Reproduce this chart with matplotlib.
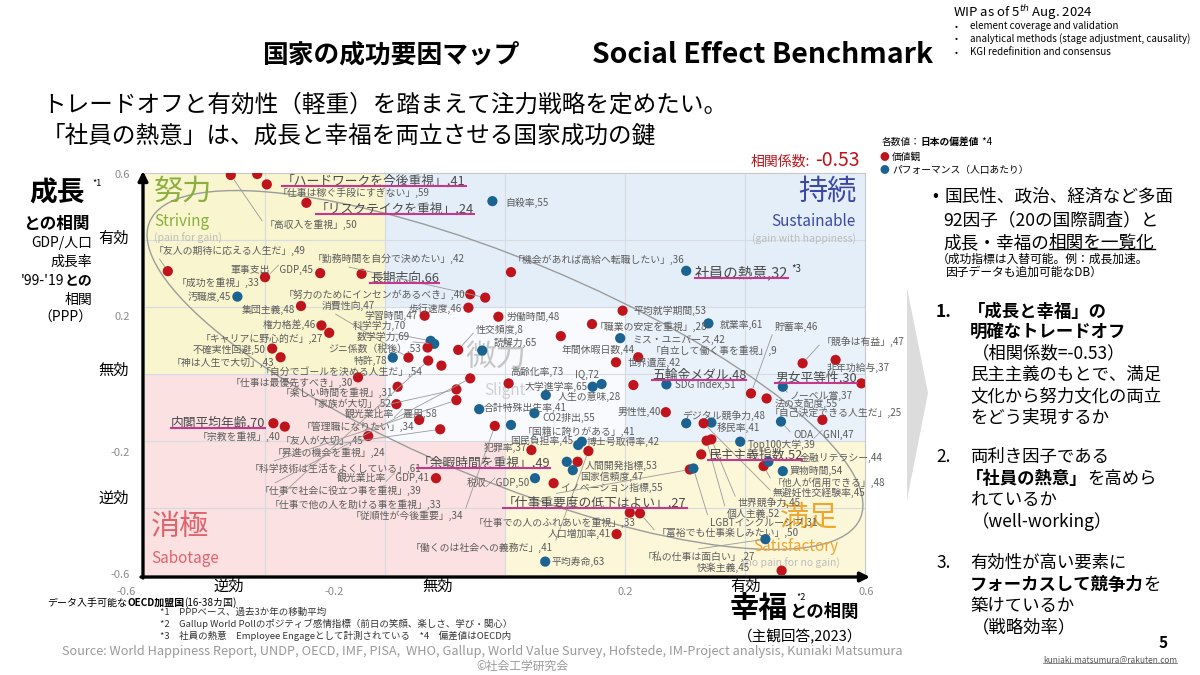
import matplotlib
matplotlib.use("Agg")
import matplotlib.pyplot as plt
from matplotlib.patches import Rectangle, Ellipse, Polygon
from matplotlib.lines import Line2D
from matplotlib.transforms import IdentityTransform

plt.rcParams['font.family'] = ['Noto Sans CJK JP', 'DejaVu Sans']

W, H = 1200, 675

# --- data: factor name, Japan deviation score, corr with happiness (x), corr with growth (y)
factor_names = [
    "「ハードワークを今後重視」", "「仕事は稼ぐ手段にすぎない」", "「リスクテイクを重視」", "「高収入を重視」",
    "「友人の期待に応える人生だ」", "軍事支出／GDP", "「成功を重視」", "長期志向", "汚職度", "集団主義",
    "権力格差", "「キャリアに野心的だ」", "不確実性回避", "「神は人生で大切」", "「勤務時間を自分で決めたい」",
    "「努力のためにインセンがあるべき」", "歩行速度", "学習時間", "消費性向", "科学学力", "数学学力",
    "ジニ係数（税後）", "特許", "「自分でゴールを決める人生だ」", "労働時間", "性交頻度", "読解力", "自殺率",
    "「機会があれば高給へ転職したい」", "社員の熱意", "平均就学期間", "「職業の安定を重視」", "就業率",
    "ミス・ユニバース", "年間休暇日数", "「自立して働く事を重視」", "世界遺産", "貯蓄率", "「競争は有益」",
    "非年功給与", "男女平等性", "ノーベル賞", "法の支配度", "「自己決定できる人生だ」", "ODA／GNI",
    "高齢化率", "IQ", "大学進学率", "人生の意味", "合計特殊出生率", "CO2排出", "「国籍に誇りがある」",
    "「従順性が今後重要」", "犯罪率", "国民負担率", "博士号取得率", "「働くのは社会への義務だ」",
    "「余暇時間を重視」", "人間開発指標", "国家信頼度", "税収／GDP", "イノベーション指標",
    "「仕事重要度の低下はよい」", "LGBTインクルーシブ", "五輪金メダル", "SDG Index", "男性性",
    "デジタル競争力", "移民率", "無避妊性交経験率", "個人主義", "世界競争力", "民主主義指数", "Top100大学",
    "「他人が信用できる」", "金融リテラシー", "買物時間", "人口増加率", "平均寿命", "快楽主義",
    "「私の仕事は面白い」", "「仕事での人のふれあいを重視」", "「富裕でも仕事楽しみたい」",
    "「仕事は最優先すべき」", "「楽しい時間を重視」", "「家族が大切」", "観光業比率／雇用",
    "「管理職になりたい」", "内閣平均年齢", "「宗教を重視」", "「友人が大切」", "「昇進の機会を重視」",
    "「科学技術は生活をよくしている」", "観光業比率／GDP", "「仕事で社会に役立つ事を重視」",
    "「仕事で他の人を助ける事を重視」",
]
japan_scores = [
    41, 59, 24, 50, 49, 45, 33, 66, 45, 48, 46, 27, 50, 43, 42, 40, 46, 47, 47, 70, 69, 53, 78, 54,
    48, 8, 65, 55, 36, 32, 53, 28, 61, 42, 44, 9, 42, 46, 47, 37, 30, 37, 55, 25, 47, 73, 72, 65,
    28, 41, 55, 41, 34, 37, 45, 42, 41, 49, 53, 47, 50, 55, 27, 31, 48, 51, 40, 48, 41, 45, 52, 45,
    52, 39, 48, 44, 54, 41, 63, 45, 27, 33, 50, 30, 31, 52, 58, 34, 70, 40, 45, 24, 61, 41, 39, 33,
]
happiness_corr = [
    -0.413, -0.397, -0.331, -0.457, -0.562, -0.308, -0.400, -0.239, -0.446, -0.340, -0.306, -0.293,
    -0.388, -0.374, -0.033, -0.058, -0.061, -0.134, -0.161, -0.124, -0.118, -0.129, -0.187, -0.106,
    -0.011, -0.078, -0.038, -0.021, 0.010, 0.302, 0.196, 0.145, 0.339, 0.192, 0.093, 0.222, 0.185,
    0.410, 0.496, 0.551, 0.594, 0.463, 0.436, 0.529, 0.460, 0.006, 0.161, 0.146, 0.068, -0.043,
    0.049, 0.010, -0.017, 0.044, 0.122, 0.128, 0.139, 0.103, 0.121, 0.113, 0.050, 0.081, 0.308,
    0.314, 0.214, 0.269, 0.268, 0.302, 0.344, 0.331, 0.336, 0.344, 0.327, 0.392, 0.431, 0.439,
    0.463, 0.186, 0.067, 0.461, 0.434, 0.208, 0.225, -0.245, -0.179, -0.181, -0.081, -0.143,
    -0.386, -0.367, -0.228, -0.108, -0.081, -0.115, -0.058, -0.128,
]
growth_corr = [
    0.597, 0.566, 0.511, 0.594, 0.307, 0.301, 0.289, 0.299, 0.231, 0.203, 0.145, 0.123, 0.076,
    0.050, 0.228, 0.238, 0.198, 0.174, 0.049, 0.099, 0.090, 0.079, 0.049, 0.025, 0.171, 0.072,
    0.070, 0.516, 0.304, 0.308, 0.189, 0.149, 0.151, 0.107, 0.113, 0.050, 0.035, -0.058, 0.032,
    0.042, -0.028, -0.038, -0.073, -0.137, -0.142, -0.028, -0.030, -0.038, -0.063, -0.105, -0.117,
    -0.152, -0.155, -0.227, -0.212, -0.202, -0.230, -0.262, -0.262, -0.287, -0.311, -0.326, -0.285,
    -0.282, -0.033, -0.031, -0.114, -0.147, -0.145, -0.147, -0.199, -0.195, -0.240, -0.202, -0.275,
    -0.262, -0.290, -0.478, -0.560, -0.587, -0.493, -0.414, -0.416, -0.010, -0.038, -0.090, -0.046,
    -0.137, -0.147, -0.157, -0.185, -0.165, -0.078, -0.311, -0.013, 0.040,
]
# v = 価値観 (values), p = パフォーマンス (performance per capita)
factor_type = list(
    "vvvvvvvvpvvvvvvvvvvpp"
    "vpvvvpp"
    "vpvvpp"
    "vvvvvvvpvvp"
    "vppppppvvppvp"
    "vppvvpvpvppvvvvpvppvpvpvvvvvvvvvvvvvvv"
)

# label placement on the slide (pixel position of label anchor, alignment, leader line, emphasis)
label_layout = [
    (282, 181, 'l', 0, 1), (278, 193, 'l', 0, 0), (316, 209, 'l', 0, 1), (265, 225, 'l', 1, 0),
    (154, 251, 'l', 1, 0), (313, 270, 'r', 0, 0), (259, 283, 'r', 0, 0), (370, 278, 'l', 0, 1),
    (231, 297, 'r', 0, 0), (295, 310, 'r', 0, 0), (316, 325, 'r', 0, 0), (323, 339, 'r', 0, 0),
    (266, 350, 'r', 0, 0), (274, 363, 'r', 0, 0), (313, 259, 'l', 1, 0), (465, 295, 'r', 0, 0),
    (462, 309, 'r', 0, 0), (418, 316, 'r', 0, 0), (322, 306, 'l', 1, 0), (353, 326, 'l', 1, 0),
    (357, 337, 'l', 1, 0), (421, 349, 'r', 0, 0), (387, 361, 'r', 0, 0), (422, 372, 'r', 0, 0),
    (507, 317, 'l', 0, 0), (476, 330, 'l', 1, 0), (494, 343, 'l', 0, 0), (505, 203, 'l', 0, 0),
    (513, 260, 'l', 0, 0), (695, 273, 'l', 0, 2), (634, 311, 'l', 0, 0), (595, 327, 'l', 0, 0),
    (720, 325, 'l', 0, 0), (632, 340, 'l', 0, 0), (562, 350, 'l', 0, 0), (651, 351, 'l', 0, 0),
    (627, 363, 'l', 0, 0), (775, 327, 'l', 1, 0), (822, 342, 'l', 1, 0), (827, 368, 'l', 0, 0),
    (857, 378, 'r', 0, 1), (790, 396, 'l', 1, 0), (775, 404, 'l', 0, 0), (770, 413, 'l', 0, 0),
    (793, 435, 'l', 1, 0), (510, 372, 'l', 0, 0), (575, 375, 'l', 0, 0), (588, 387, 'r', 0, 0),
    (558, 397, 'l', 0, 0), (484, 408, 'l', 0, 0), (542, 418, 'l', 0, 0), (523, 432, 'l', 0, 0),
    (463, 516, 'r', 1, 0), (527, 448, 'r', 0, 0), (573, 441, 'r', 0, 0), (587, 442, 'l', 0, 0),
    (553, 548, 'r', 1, 0), (550, 463, 'r', 0, 1), (585, 466, 'l', 0, 0), (580, 477, 'l', 0, 0),
    (530, 483, 'r', 0, 0), (560, 488, 'l', 0, 0), (503, 503, 'l', 1, 1), (710, 523, 'l', 1, 0),
    (652, 375, 'l', 0, 1), (675, 385, 'l', 0, 0), (661, 412, 'r', 0, 0), (682, 416, 'l', 0, 0),
    (717, 428, 'l', 0, 0), (773, 493, 'l', 1, 0), (727, 514, 'l', 1, 0), (738, 503, 'l', 1, 0),
    (708, 455, 'l', 0, 1), (748, 445, 'l', 0, 0), (773, 483, 'l', 1, 0), (800, 458, 'l', 0, 0),
    (790, 471, 'l', 0, 0), (611, 534, 'r', 0, 0), (551, 562, 'l', 0, 0), (750, 568, 'r', 0, 0),
    (643, 557, 'l', 1, 0), (635, 523, 'r', 0, 0), (657, 533, 'l', 1, 0), (353, 383, 'r', 0, 0),
    (393, 393, 'r', 0, 0), (391, 404, 'r', 0, 0), (345, 414, 'l', 1, 0), (414, 427, 'r', 0, 0),
    (265, 423, 'r', 0, 1), (280, 437, 'r', 0, 0), (363, 441, 'r', 0, 0), (273, 453, 'l', 1, 0),
    (250, 469, 'l', 1, 0), (430, 478, 'r', 0, 0), (260, 491, 'l', 1, 0), (270, 505, 'l', 1, 0),
]

RED = '#c0141c'
BLUE = '#1b6391'
PINK_LINE = '#c8378c'

fig = plt.figure(figsize=(12, 6.75), dpi=100)
renderer = fig.canvas.get_renderer()


def put(x, y, s, size, ha='left', weight='normal', color='black', **kw):
    return fig.text(x / W, 1 - y / H, s, fontsize=size, ha=ha, va='center',
                    fontweight=weight, color=color, **kw)


def rich(x, y, parts, size, color='black'):
    # parts: list of (text, bold)
    for s, bold in parts:
        t = put(x, y, s, size, weight='bold' if bold else 'normal', color=color)
        x = t.get_window_extent(renderer).x1


def underline(t, color, lw=1.3, pad=1.0):
    bb = t.get_window_extent(renderer)
    fig.add_artist(Line2D([bb.x0, bb.x1], [bb.y0 + pad, bb.y0 + pad], color=color, lw=lw,
                          transform=IdentityTransform()))


# ---------------- scatter map ----------------
ax = fig.add_axes([145 / W, 1 - 575 / H, 720 / W, 402 / H])
ax.set_xlim(-0.6, 0.6)
ax.set_ylim(-0.6, 0.6)
ax.set_xticks([])
ax.set_yticks([])
for side in ['top', 'right']:
    ax.spines[side].set_color('#c8c8c8')
    ax.spines[side].set_linewidth(0.8)
for side in ['left', 'bottom']:
    ax.spines[side].set_visible(False)

zones = [
    (-0.6, 0.0, 0.4, 0.6, '#f8f5cf'),   # 努力
    (-0.2, 0.2, 0.8, 0.4, '#e4eef9'),   # 持続
    (0.2, -0.2, 0.4, 0.4, '#e9f1fa'),
    (-0.2, -0.2, 0.4, 0.4, '#f8fafd'),  # 微力
    (-0.6, -0.6, 0.4, 0.6, '#fbe1e2'),  # 消極
    (-0.2, -0.6, 0.2, 0.4, '#fbe1e2'),
    (0.0, -0.6, 0.6, 0.4, '#fcf7d9'),   # 満足
]
for x0, y0, w, h, c in zones:
    ax.add_patch(Rectangle((x0, y0), w, h, facecolor=c, edgecolor='none', zorder=0))
for g in [-0.4, -0.2, 0.0, 0.2, 0.4]:
    ax.axvline(g, color='#d6dbe2', lw=0.8, zorder=1)
    ax.axhline(g, color='#d6dbe2', lw=0.8, zorder=1)

# distribution outline
ax.add_patch(Ellipse((505, H - 370), width=770, height=220, angle=-22.6, fill=False,
                     edgecolor='#9c9c9c', lw=1.0, transform=IdentityTransform(), zorder=2))

# quadrant names
ax.text(-0.585, 0.545, "努力", fontsize=21, color='#8aaf3c', va='center', zorder=2)
ax.text(-0.585, 0.455, "Striving", fontsize=11, color='#8aaf3c', va='center', zorder=2)
ax.text(-0.585, 0.405, "(pain for gain)", fontsize=7.5, color='#bdbdbd', va='center', zorder=2)
ax.text(0.585, 0.545, "持続", fontsize=21, color='#3b48a6', va='center', ha='right', zorder=2)
ax.text(0.585, 0.455, "Sustainable", fontsize=11, color='#3b48a6', va='center', ha='right', zorder=2)
ax.text(0.585, 0.405, "(gain with happiness)", fontsize=7.5, color='#bdbdbd', va='center', ha='right', zorder=2)
ax.text(-0.59, -0.458, "消極", fontsize=21, color='#e0636c', va='center', zorder=2)
ax.text(-0.59, -0.55, "Sabotage", fontsize=11, color='#e0636c', va='center', zorder=2)
ax.text(0.555, -0.43, "満足", fontsize=21, color='#f0a52c', va='center', ha='right', zorder=2)
ax.text(0.555, -0.515, "Satisfactory", fontsize=11, color='#f0a52c', va='center', ha='right', zorder=2)
ax.text(0.558, -0.567, "(no pain for no gain)", fontsize=7.5, color='#bdbdbd', va='center', ha='right', zorder=2)
ax.text(-0.015, 0.05, "微力", fontsize=22, color='#c6c6c6', va='center', ha='center', zorder=2)
ax.text(0.0, -0.048, "Slight", fontsize=11, color='#cfcfcf', va='center', ha='center', zorder=2)

# points
colors = [RED if k == 'v' else BLUE for k in factor_type]
ax.scatter(happiness_corr, growth_corr, s=54, c=colors, edgecolors='none', zorder=4)

emphasised = []
for name, score, hx, gy, (lx, ly, ha, leader, emph) in zip(
        factor_names, japan_scores, happiness_corr, growth_corr, label_layout):
    size = [7.1, 9.2, 10.5][emph]
    props = None
    if leader:
        props = dict(arrowstyle='-', color='#9a9a9a', lw=0.6, shrinkA=0, shrinkB=4,
                     relpos=(0.0, 0.5) if ha == 'l' else (1.0, 0.5))
    t = ax.annotate(f"{name},{score}", xy=(hx, gy), xytext=(lx, H - ly),
                    textcoords='figure pixels', ha='left' if ha == 'l' else 'right',
                    va='center', fontsize=size, color='#4a4a4a' if emph else '#5c5c5c',
                    arrowprops=props, zorder=5)
    if emph:
        emphasised.append((t, emph))

# axis arrows
ax.annotate('', xy=(143, H - 171), xytext=(143, H - 578), xycoords='figure pixels',
            textcoords='figure pixels',
            arrowprops=dict(arrowstyle='-|>', lw=2.4, color='black', mutation_scale=14,
                            shrinkA=0, shrinkB=0))
ax.annotate('', xy=(870, H - 577), xytext=(141, H - 577), xycoords='figure pixels',
            textcoords='figure pixels',
            arrowprops=dict(arrowstyle='-|>', lw=2.4, color='black', mutation_scale=14,
                            shrinkA=0, shrinkB=0))

# ---------------- slide text ----------------
put(262, 55, "国家の成功要因マップ", 18.5, weight='bold')
put(592, 55, "Social Effect Benchmark", 20.5, weight='bold')
put(42, 105, "トレードオフと有効性（軽重）を踏まえて注力戦略を定めたい。", 17)
put(42, 136, "「社員の熱意」は、成長と幸福を両立させる国家成功の鍵", 17)

put(953, 13, "WIP as of 5$^{th}$ Aug. 2024", 9.5)
for i, s in enumerate(["element coverage and validation",
                       "analytical methods (stage adjustment, causality)",
                       "KGI redefinition and consensus"]):
    put(955, 26 + 13 * i, "•", 6.5)
    put(970, 26 + 13 * i, s, 7)

# legend + correlation
rich(882, 142, [("各数値：", False), ("日本の偏差値", True), (" *4", False)], 7)
put(880, 157, "●", 7, color=RED)
put(892, 157, "価値観", 7)
put(880, 170, "●", 7, color=BLUE)
put(892, 170, "パフォーマンス（人口あたり）", 7)
put(810, 162, "相関係数:", 10, ha='right', color=RED)
put(860, 160, "-0.53", 14, ha='right', color=RED)

# left axis title
put(85, 193, "成長", 20, ha='right', weight='bold')
put(92, 183, "*1", 6.5)
put(90, 224, "との相関", 12, ha='right', weight='bold')
put(92, 243, "GDP/人口", 10, ha='right')
put(92, 262, "成長率", 10, ha='right')
t = put(92, 281, "との", 10, ha='right', weight='bold')
put(t.get_window_extent(renderer).x0, 281, "'99-'19", 10, ha='right')
put(92, 300, "相関", 10, ha='right')
put(92, 318, "（PPP）", 10, ha='right')

for s, y in [("0.6", 175), ("0.2", 317), ("-0.2", 453), ("-0.6", 575)]:
    put(130, y, s, 8, ha='right', color='#8c8c8c')
for s, y in [("有効", 238), ("無効", 370), ("逆効", 498)]:
    put(114, y, s, 11, ha='center')
for s, x in [("-0.6", 126), ("-0.2", 334), ("0.2", 625), ("0.6", 866)]:
    put(x, 592, s, 8, ha='center', color='#8c8c8c')
for s, x in [("逆効", 229), ("無効", 438), ("有効", 746)]:
    put(x, 586, s, 11, ha='center')

# bottom axis title
put(730, 608, "幸福", 21, weight='bold')
put(796, 598, "*2", 6.5)
put(790, 612, "との相関", 12.5, weight='bold')
put(800, 637, "（主観回答,2023）", 10.5, ha='center')

rich(47, 603, [("データ入手可能な", False), ("OECD加盟国", True), ("(16-38カ国)", False)], 7.2)
put(160, 612, "*1　PPPベース、過去3か年の移動平均", 6.8, color='#333333')
put(160, 624, "*2　Gallup World Pollのポジティブ感情指標（前日の笑顔、楽しさ、学び・関心）", 6.8, color='#333333')
put(160, 636, "*3　社員の熱意　Employee Engageとして計測されている　*4　偏差値はOECD内", 6.8, color='#333333')
put(62, 652, "Source: World Happiness Report, UNDP, OECD, IMF, PISA,  WHO, Gallup, World Value Survey, "
             "Hofstede, IM-Project analysis, Kuniaki Matsumura", 9.2, color='#9a9a9a')
put(522, 666, "©社会工学研究会", 8.5, ha='center', color='#9a9a9a')

# right panel
put(932, 196, "•", 12.7)
put(945, 196, "国民性、政治、経済など多面", 12.7)
put(943, 220, "92因子（20の国際調査）と", 12.7)
t = put(943, 243, "成長・幸福の", 12.7)
t2 = put(t.get_window_extent(renderer).x1, 243, "相関を一覧化", 12.7)
underline(t2, 'black', lw=1.0, pad=3.0)
put(937, 259, "（成功指標は入替可能。例：成長加速。", 8.5)
put(945, 272, "因子データも追加可能なDB）", 8.5)

fig.add_artist(Polygon([(907, H - 288), (928, H - 393), (907, H - 500)], closed=True,
                       facecolor='#dcdcdc', edgecolor='none', transform=IdentityTransform()))

put(936, 312, "1.", 12.5, weight='bold')
put(968, 312, "「成長と幸福」の", 12.5, weight='bold')
put(970, 332, "明確なトレードオフ", 12.5, weight='bold')
put(972, 353, "（相関係数=-0.53）", 12.5)
put(970, 375, "民主主義のもとで、満足", 12.5)
put(970, 396, "文化から努力文化の両立", 12.5)
put(970, 417, "をどう実現するか", 12.5)

put(936, 457, "2.", 12.5)
put(970, 457, "両利き因子である", 12.5)
rich(966, 479, [("「社員の熱意」", True), ("を高めら", False)], 12.5)
put(970, 500, "れているか", 12.5)
put(972, 522, "（well-working）", 12.5)

put(936, 563, "3.", 12.5)
put(970, 563, "有効性が高い要素に", 12.5)
rich(970, 585, [("フォーカスして競争力", True), ("を", False)], 12.5)
put(970, 606, "築けているか", 12.5)
put(972, 627, "（戦略効率）", 12.5)

put(1163, 643, "5", 11, ha='center', weight='bold')
t = put(1177, 660, "kuniaki.matsumura@rakuten.com", 6, ha='right', color='#555555')
underline(t, '#555555', lw=0.5, pad=1.5)

# underline emphasised factor labels
fig.canvas.draw()
for t, emph in emphasised:
    underline(t, PINK_LINE, lw=1.5, pad=2.0)
    if emph == 2:
        bb = t.get_window_extent(renderer)
        fig.text((bb.x1 + 3) / W, (bb.y1 - 3) / H, "*3", fontsize=7, va='center', color='#333333')

fig.savefig("out.png", dpi=100)
